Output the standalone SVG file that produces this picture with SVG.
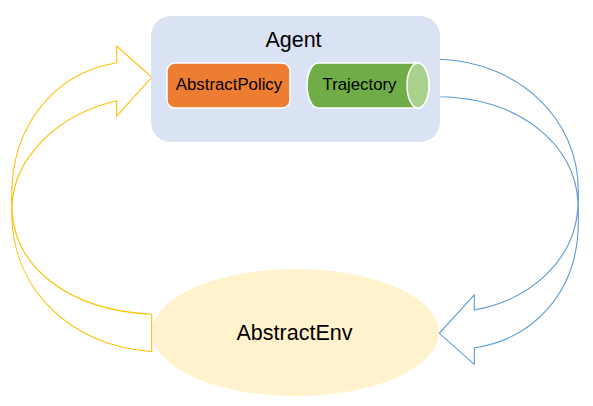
<svg xmlns="http://www.w3.org/2000/svg" width="593" height="406" viewBox="0 0 593 406">
<style>
text{font-family:"Liberation Sans",Arial,sans-serif;fill:#000;text-anchor:middle}
.big{font-size:21.5px}
.small{font-size:16.8px}
.conn{fill:#fff;stroke-width:1.1;stroke-linejoin:miter}
</style>
<rect width="593" height="406" fill="#fff"/>
<g id="connectors">
<path class="conn" stroke="#FFC000" d="M151.7,351.7 C70,345 11.7,290 11.7,212 L11.7,195 C11.7,130 50,74 116.7,62.7 L116.7,46 L151.7,77.3 L116.7,116 L116.7,100.7 C55,115 13,160 12,207 C13,265 65,310 151.7,314.3 Z"/>
<path class="conn" stroke="#5B9BD5" d="M439.3,59.3 C520,62 578.3,120 578.3,190 L578.3,222 C578.3,295 530,340 474.3,347.7 L474.3,364.3 L439.3,333.3 L474.3,295 L474.3,310 C530,300 577,260 578,203 C576,145 520,98 439.3,96.7 Z"/>
</g>
<g id="agent">
<rect x="151" y="16" width="289" height="126" rx="20" fill="#DAE3F3"/>
<text class="big" x="293.5" y="46.7">Agent</text>
</g>
<g id="abstractpolicy">
<rect x="167" y="63" width="123" height="45" rx="8" fill="#ED7D31" stroke="#fff" stroke-width="1.5"/>
<text class="small" x="229" y="90">AbstractPolicy</text>
</g>
<g id="trajectory">
<path d="M318,63 H418 A11,22.5 0 0 1 418,108 H318 A11,22.5 0 0 1 318,63 Z" fill="#70AD47" stroke="#fff" stroke-width="1.5"/>
<ellipse cx="418" cy="85.5" rx="11" ry="22.5" fill="#A9D18E" stroke="#fff" stroke-width="1.5"/>
<text class="small" x="359.5" y="90">Trajectory</text>
</g>
<g id="abstractenv">
<ellipse cx="295.5" cy="332.5" rx="143.5" ry="63.5" fill="#FFF2CC"/>
<text class="big" x="294.5" y="340">AbstractEnv</text>
</g>
</svg>
